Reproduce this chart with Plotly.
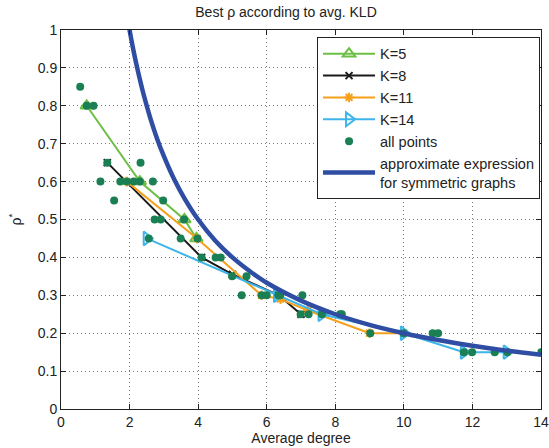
import plotly.graph_objects as go

# K=5
k5_x = [0.75, 2.30, 3.60, 3.95]
k5_y = [0.80, 0.60, 0.50, 0.45]
# K=8
k8_x = [1.35, 4.10, 5.00, 6.35, 7.00]
k8_y = [0.65, 0.40, 0.355, 0.30, 0.25]
# K=11
k11_x = [1.92, 3.97, 5.85, 6.40, 7.20, 9.00, 10.00]
k11_y = [0.60, 0.45, 0.30, 0.29, 0.26, 0.20, 0.20]
# K=14
k14_x = [2.50, 6.30, 7.60, 10.00, 11.75, 13.00]
k14_y = [0.45, 0.30, 0.25, 0.20, 0.15, 0.15]
# all points
pts_x = [0.56, 0.75, 0.95, 1.35, 1.15, 1.73, 1.92, 2.12, 2.30, 2.32, 2.68, 1.55, 2.98,
         2.73, 2.91, 3.59, 2.56, 3.49, 3.98, 4.10, 4.51, 4.66, 4.99, 5.41, 5.27, 5.85,
         6.00, 6.34, 6.39, 7.04, 6.99, 7.22, 7.61, 8.14, 8.19, 9.02, 9.99, 10.84, 11.00,
         11.75, 11.99, 12.65, 13.02, 14.01]
pts_y = [0.85, 0.80, 0.80, 0.65, 0.60, 0.60, 0.60, 0.60, 0.60, 0.65, 0.60, 0.55, 0.55,
         0.50, 0.50, 0.50, 0.45, 0.45, 0.45, 0.40, 0.40, 0.40, 0.35, 0.35, 0.30, 0.30,
         0.30, 0.30, 0.30, 0.30, 0.25, 0.25, 0.25, 0.25, 0.25, 0.20, 0.20, 0.20, 0.20,
         0.15, 0.15, 0.15, 0.15, 0.15]
# approximate expression
approx_x = [1.95, 2.1, 2.25, 2.4, 2.6, 2.8, 3.0, 3.3, 3.6, 4.0, 4.5, 5.0, 5.5, 6.0, 7.0,
            8.0, 9.0, 10.0, 11.0, 12.0, 13.0, 14.0]
approx_y = [1.025, 0.952, 0.889, 0.833, 0.769, 0.714, 0.667, 0.606, 0.556, 0.50, 0.444,
            0.40, 0.364, 0.333, 0.286, 0.25, 0.222, 0.20, 0.182, 0.167, 0.154, 0.143]

x_ticks = [0, 2, 4, 6, 8, 10, 12, 14]
y_ticks = [0, 0.1, 0.2, 0.3, 0.4, 0.5, 0.6, 0.7, 0.8, 0.9, 1]
y_tick_labels = ["0", "0.1", "0.2", "0.3", "0.4", "0.5", "0.6", "0.7", "0.8", "0.9", "1"]

GREEN = "#6CBF45"
ORANGE = "#F5A01A"
CYAN = "#3DB5EA"
BLUE = "#2E4DA3"
DOT = "#1A7F52"

fig = go.Figure()
fig.add_trace(go.Scatter(x=k5_x, y=k5_y, mode="lines+markers", name="K=5",
                         line=dict(color=GREEN, width=2),
                         marker=dict(symbol="triangle-up-open", size=11, color=GREEN,
                                     line=dict(width=2, color=GREEN))))
fig.add_trace(go.Scatter(x=k8_x, y=k8_y, mode="lines+markers", name="K=8",
                         line=dict(color="#1a1a1a", width=2),
                         marker=dict(symbol="x-thin-open", size=7, color="#1a1a1a",
                                     line=dict(width=2, color="#1a1a1a"))))
fig.add_trace(go.Scatter(x=k11_x, y=k11_y, mode="lines+markers", name="K=11",
                         line=dict(color=ORANGE, width=2),
                         marker=dict(symbol="asterisk-open", size=8, color=ORANGE,
                                     line=dict(width=2, color=ORANGE))))
fig.add_trace(go.Scatter(x=k14_x, y=k14_y, mode="lines+markers", name="K=14",
                         line=dict(color=CYAN, width=2),
                         marker=dict(symbol="triangle-right-open", size=12, color=CYAN,
                                     line=dict(width=2, color=CYAN))))
fig.add_trace(go.Scatter(x=pts_x, y=pts_y, mode="markers", name="all points",
                         marker=dict(symbol="circle", size=8, color=DOT)))
fig.add_trace(go.Scatter(x=approx_x, y=approx_y, mode="lines",
                         name="approximate expression<br>for symmetric graphs",
                         line=dict(color=BLUE, width=4.5, shape="spline")))

axis_common = dict(showline=True, linecolor="#222", linewidth=1, mirror="ticks",
                   ticks="inside", ticklen=5, tickcolor="#222",
                   showgrid=True, gridcolor="#777", griddash="1px,3px", gridwidth=1,
                   zeroline=False, automargin=False, tickfont=dict(size=14, color="#222"))

fig.update_layout(
    width=549, height=448,
    margin=dict(l=61, r=8, t=30, b=39),
    paper_bgcolor="white", plot_bgcolor="white",
    font=dict(family="Liberation Sans, Arial, sans-serif", color="#222", size=14),
    title=dict(text="Best ρ according to avg. KLD", x=0.521, xanchor="center",
               y=0.985, yanchor="top", font=dict(size=14)),
    xaxis=dict(range=[0, 14], tickvals=x_ticks,
               title=dict(text="Average degree", standoff=2, font=dict(size=14)),
               **axis_common),
    yaxis=dict(range=[0, 1], tickvals=y_ticks, ticktext=y_tick_labels,
               title=dict(text="ρ<sup>*</sup>", standoff=12, font=dict(size=14)),
               **axis_common),
    legend=dict(x=0.998, xanchor="right", y=0.982, yanchor="top",
                bordercolor="#222", borderwidth=1, bgcolor="white",
                font=dict(size=14.5), itemwidth=52, tracegroupgap=0),
    showlegend=True,
)

fig.write_html("out.html", config={"displayModeBar": False},
               post_script="document.body.style.margin='0';")
